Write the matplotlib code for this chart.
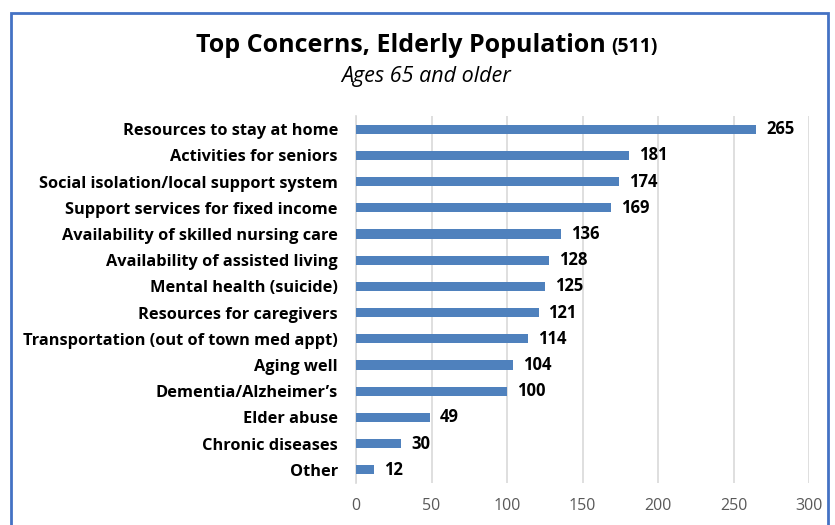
import matplotlib
matplotlib.use("Agg")
import matplotlib.pyplot as plt
from matplotlib.patches import Rectangle

# data, top to bottom as shown
categories = [
    "Resources to stay at home",
    "Activities for seniors",
    "Social isolation/local support system",
    "Support services for fixed income",
    "Availability of skilled nursing care",
    "Availability of assisted living",
    "Mental health (suicide)",
    "Resources for caregivers",
    "Transportation (out of town med appt)",
    "Aging well",
    "Dementia/Alzheimer\u2019s",
    "Elder abuse",
    "Chronic diseases",
    "Other",
]
counts = [265, 181, 174, 169, 136, 128, 125, 121, 114, 104, 100, 49, 30, 12]
x_ticks = [0, 50, 100, 150, 200, 250, 300]

BAR = "#4F81BD"
FONT = "Open Sans"

fig = plt.figure(figsize=(8.35, 5.25), dpi=100)
ax = fig.add_axes([356 / 835, 1 - 483 / 525, 453 / 835, 367 / 525])

ypos = list(range(len(categories)))
ax.barh(ypos, counts, height=0.35, color=BAR, zorder=3)
ax.set_ylim(len(categories) - 0.5, -0.5)
ax.set_xlim(0, 300)
ax.set_xticks(x_ticks)
ax.set_xticklabels([str(t) for t in x_ticks], fontsize=11.5, color="#595959", family=FONT)
ax.set_yticks(ypos)
ax.set_yticklabels(categories, fontsize=11.8, fontweight="bold", family=FONT, color="#000000")
ax.tick_params(axis="both", length=0)
ax.tick_params(axis="x", pad=11)
ax.tick_params(axis="y", pad=13)
ax.grid(axis="x", color="#D9D9D9", linewidth=1.2, zorder=0)
for s in ["top", "right", "bottom"]:
    ax.spines[s].set_visible(False)
ax.spines["left"].set_color("#D9D9D9")
ax.spines["left"].set_linewidth(1.2)

for y, v in zip(ypos, counts):
    ax.text(v + 6.5, y, str(v), va="center", ha="left", fontsize=12,
            fontweight="bold", family=FONT, color="#000000")

# title in two sizes
t1 = fig.text(0.5, 1 - 52 / 525, "Top Concerns, Elderly Population", ha="left",
              va="baseline", fontsize=18, fontweight="bold", family=FONT)
t2 = fig.text(0.5, 1 - 52 / 525, "(511)", ha="left", va="baseline",
              fontsize=14, fontweight="bold", family=FONT)
fig.canvas.draw()
w1 = t1.get_window_extent().width
w2 = t2.get_window_extent().width
gap = 6
x0 = 427 - (w1 + gap + w2) / 2
t1.set_x(x0 / 835)
t2.set_x((x0 + w1 + gap) / 835)
fig.text(426 / 835, 1 - 82 / 525, "Ages 65 and older", ha="center", va="baseline",
         fontsize=15.5, style="italic", family=FONT)

# blue frame
fig.patches.append(Rectangle((11 / 835, -0.05), 817 / 835, 1.05 - 13 / 525,
                             transform=fig.transFigure, fill=False,
                             edgecolor="#4472C4", linewidth=2))

fig.savefig("out.png", dpi=100)
